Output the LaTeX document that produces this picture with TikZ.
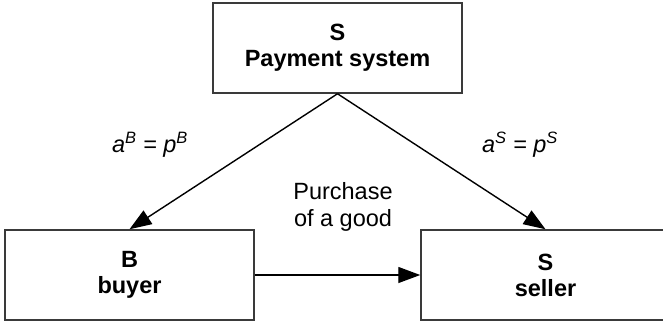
\documentclass[tikz,border=0pt]{standalone}
\usepackage{fontspec}
\setmainfont{Liberation Sans}
\usepackage{xcolor}
\usetikzlibrary{arrows.meta}
\definecolor{edge1}{HTML}{3A3A3A}

\begin{document}
\begin{tikzpicture}[x=1pt,y=-1pt,
  party/.style={draw=edge1,line width=1.5pt,minimum width=249pt,minimum height=90pt,
    align=center,font=\fontsize{23.5}{26}\selectfont\bfseries},
  flow/.style={line width=1.4pt,-{Triangle[length=22pt,width=16pt]}},
  lbl/.style={align=center,font=\fontsize{23.5}{27}\selectfont}]

\clip (0,0) rectangle (663,322);

\node[party] (sys) at (337.5,48) {S\\Payment system};
\node[party] (buyer) at (129.5,275) {B\\buyer};
\node[party] (seller) at (545.5,275) {S\\seller};

\draw[flow] (sys.south) -- (buyer.north);
\draw[flow] (sys.south) -- (seller.north);
\draw[flow] (buyer.east) -- (seller.west);

\node[lbl] (feeB) at (150,145) {\itshape a\textsuperscript{B} = p\textsuperscript{B}};
\node[lbl] (feeS) at (520,145) {\itshape a\textsuperscript{S} = p\textsuperscript{S}};
\node[lbl] (good) at (343,207) {Purchase\\of a good};

\end{tikzpicture}
\end{document}
